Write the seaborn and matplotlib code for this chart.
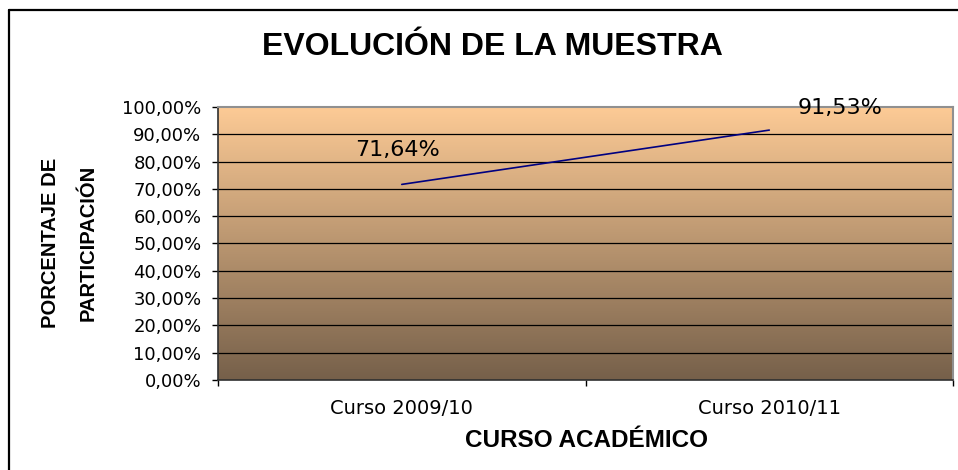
import numpy as np
import pandas as pd
import matplotlib
matplotlib.use("Agg")
import matplotlib.pyplot as plt
import seaborn as sns
from matplotlib.lines import Line2D
from matplotlib.ticker import FixedLocator, FuncFormatter

# ---------------------------------
# DATA
# ---------------------------------
cursos = ["Curso 2009/10", "Curso 2010/11"]
participacion = [71.64, 91.53]
etiquetas = ["71,64%", "91,53%"]
y_ticks = list(range(0, 101, 10))

df = pd.DataFrame({"Curso": cursos, "Participacion": participacion})

# ---------------------------------
# FIGURE
# ---------------------------------
sns.set_style("white")
plt.rcParams["font.family"] = ["DejaVu Sans"]
plt.rcParams["text.color"] = "black"
plt.rcParams["xtick.color"] = "black"
plt.rcParams["ytick.color"] = "black"

fig = plt.figure(figsize=(9.58, 4.70), dpi=100)
ax = fig.add_axes([0.2276, 0.1915, 0.7672, 0.5809])

# gradient background (peach -> brown)
top = np.array([253, 203, 150]) / 255
bottom = np.array([118, 96, 74]) / 255
t = np.linspace(0, 1, 256)[:, None]
grad = (top * (1 - t) + bottom * t)[:, None, :]
ax.imshow(grad, extent=[0, 1, 0, 1], transform=ax.transAxes,
          aspect="auto", zorder=0, interpolation="bilinear")

sns.lineplot(data=df, x="Curso", y="Participacion", ax=ax,
             color="#000080", linewidth=1.2, zorder=3)

ax.set_xlim(-0.5, 1.5)
ax.set_ylim(0, 100)

# horizontal gridlines
for v in y_ticks[1:-1]:
    ax.axhline(v, color="black", linewidth=0.9, zorder=2)

# data labels
offsets = [(-3, 24.5), (51, 16)]
for x, y, lab, off in zip(range(len(cursos)), participacion, etiquetas, offsets):
    ax.annotate(lab, (x, y), xytext=off, textcoords="offset points",
                ha="center", va="center", fontsize=16, color="black")

# y axis
ax.yaxis.set_major_locator(FixedLocator(y_ticks))
ax.yaxis.set_major_formatter(FuncFormatter(lambda v, p: f"{v:.2f}%".replace(".", ",")))
ax.tick_params(axis="y", direction="out", length=4, width=1, color="black",
               labelsize=13, labelcolor="black", pad=8, left=True)

# x axis: labels at categories, tick marks between them
ax.set_xticks(range(len(cursos)))
ax.set_xticklabels(cursos)
ax.xaxis.set_minor_locator(FixedLocator([-0.5, 0.5, 1.5]))
ax.tick_params(axis="x", which="major", length=0, labelsize=14,
               labelcolor="black", pad=14)
ax.tick_params(axis="x", which="minor", direction="out", length=4, width=1,
               color="black", bottom=True)

ax.set_xlabel("")
ax.set_ylabel("")

for s in ["top", "right"]:
    ax.spines[s].set_color("#909090")
    ax.spines[s].set_linewidth(1.5)
for s in ["left", "bottom"]:
    ax.spines[s].set_color("#303030")
    ax.spines[s].set_linewidth(1.2)

# ---------------------------------
# TEXTS
# ---------------------------------
fig.text(0.5136, 0.9, "EVOLUCIÓN DE LA MUESTRA", ha="center", va="center",
         fontsize=23, fontweight="bold", family=["Liberation Sans", "DejaVu Sans"])
fig.text(0.6127, 0.0638, "CURSO ACADÉMICO", ha="center", va="center",
         fontsize=17.5, fontweight="bold", family=["Liberation Sans", "DejaVu Sans"])
fig.text(0.0725, 0.484, "PORCENTAJE DE\nPARTICIPACIÓN", ha="center", va="center",
         rotation=90, fontsize=14.5, fontweight="bold", linespacing=2.2,
         family=["Liberation Sans", "DejaVu Sans"])

# outer chart border (top and left only, rest cropped)
fig.add_artist(Line2D([0.0099, 0.0099], [0.0, 0.9787], transform=fig.transFigure,
                      color="black", linewidth=1.6))
fig.add_artist(Line2D([0.0099, 1.0], [0.9787, 0.9787], transform=fig.transFigure,
                      color="black", linewidth=1.6))

plt.savefig("out.png", dpi=100)
